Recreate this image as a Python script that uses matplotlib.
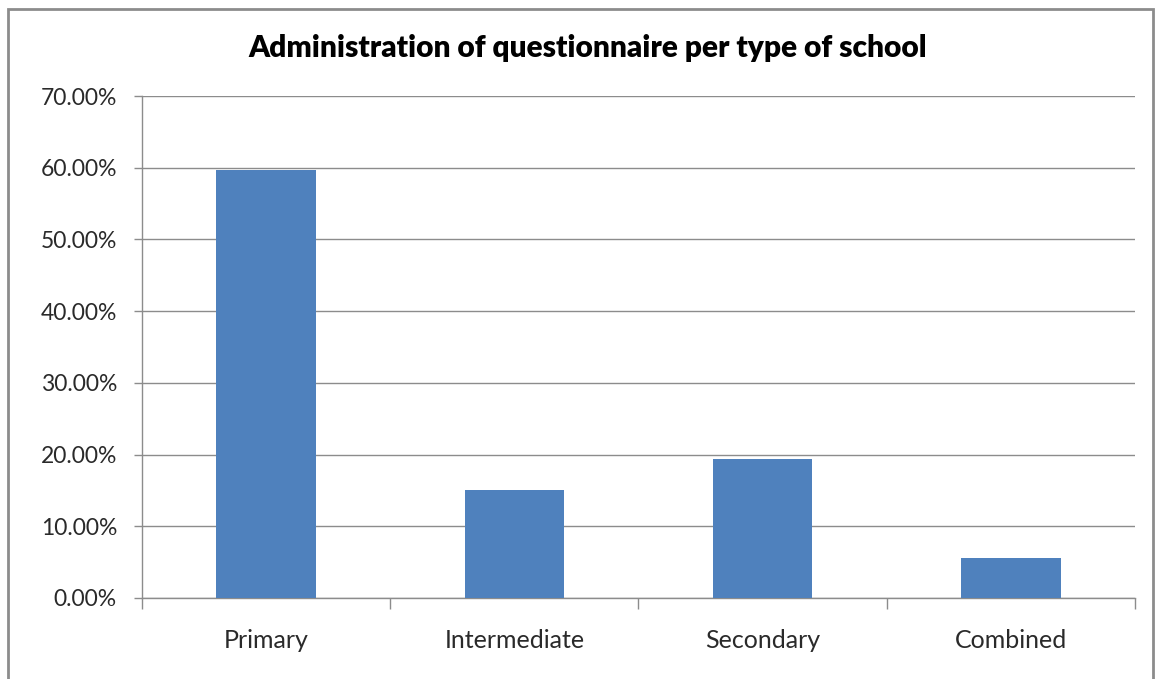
import matplotlib.pyplot as plt
from matplotlib.patches import Rectangle
from matplotlib.ticker import FuncFormatter, FixedLocator
import numpy as np

plt.rcParams['font.family'] = ['Lato', 'DejaVu Sans']

categories = ['Primary', 'Intermediate', 'Secondary', 'Combined']
shares = [0.597, 0.151, 0.194, 0.056]

fig = plt.figure(figsize=(11.61, 6.79), dpi=100)
ax = fig.add_axes([0.1223, 0.1193, 0.8553, 0.7393])

# chart border like the Excel chart area
fig.patches.append(Rectangle((8 / 1161, -0.01), 1145 / 1161, 1 - 9 / 679 + 0.01,
                             transform=fig.transFigure, fill=False,
                             edgecolor='#8c8c8c', linewidth=2))

x = np.arange(len(categories))
ax.bar(x, shares, width=0.4, color='#4f81bd', zorder=3)

ax.set_xlim(-0.5, len(categories) - 0.5)
ax.set_ylim(0, 0.7)
ax.set_yticks(np.arange(0, 0.71, 0.1))
ax.yaxis.set_major_formatter(FuncFormatter(lambda v, p: f'{v * 100:.2f}%'))
ax.grid(axis='y', color='#8c8c8c', linewidth=1, zorder=0)

ax.set_xticks(x)
ax.set_xticklabels(categories)
ax.xaxis.set_minor_locator(FixedLocator(np.arange(-0.5, len(categories), 1)))
ax.tick_params(axis='x', which='major', length=0, pad=22, labelsize=18, colors='#2a2a2a')
ax.tick_params(axis='x', which='minor', length=8, width=1, color='#8c8c8c')
ax.tick_params(axis='y', length=6, width=1, color='#8c8c8c', labelsize=16.5, pad=12,
               labelcolor='#2a2a2a')

for side in ['top', 'right']:
    ax.spines[side].set_visible(False)
for side in ['left', 'bottom']:
    ax.spines[side].set_color('#8c8c8c')
    ax.spines[side].set_linewidth(1)

fig.text(0.506, 0.93, 'Administration of questionnaire per type of school',
         ha='center', va='center', fontsize=21.5, fontweight='heavy')

fig.savefig('out.png', dpi=100)
